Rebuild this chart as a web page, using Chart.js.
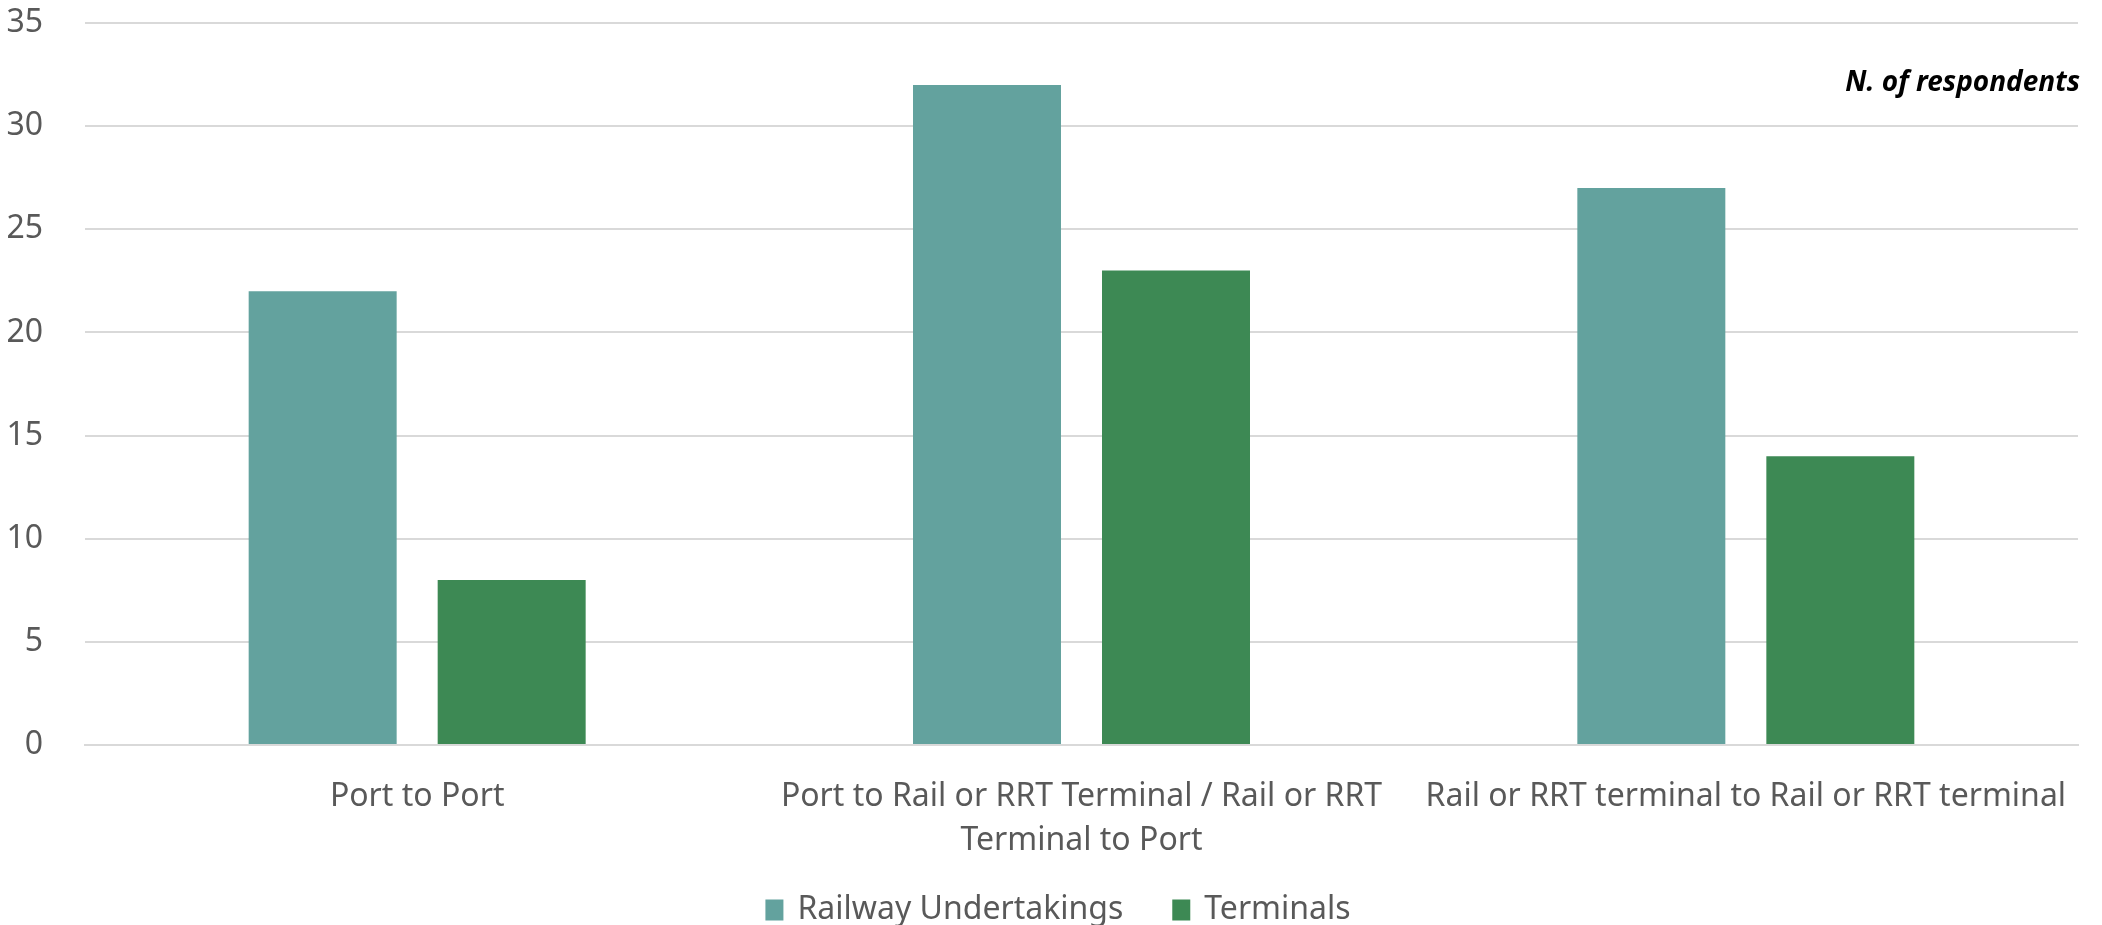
<!DOCTYPE html>
<html>
<head>
<meta charset="utf-8">
<script src="https://cdn.jsdelivr.net/npm/chart.js@4/dist/chart.umd.min.js"></script>
<style>
  html, body { margin: 0; padding: 0; background: #fff; overflow: hidden; }
  #grafico { position: absolute; left: 0; top: 0; }
</style>
</head>
<body>
<canvas id="grafico" width="2102" height="925"></canvas>
<script>
const categorias = [
  'Port to Port',
  ['Port to Rail or RRT Terminal / Rail or RRT', 'Terminal to Port'],
  'Rail or RRT terminal to Rail or RRT terminal'
];
const railway = [22, 32, 27];
const terminals = [8, 23, 14];
const ticksY = [0, 5, 10, 15, 20, 25, 30, 35];

const fuente = "'Noto Sans', sans-serif";

// nota arriba a la derecha + leyenda dibujada a mano (para controlar el espaciado)
const extras = {
  id: 'extras',
  afterDraw(chart) {
    const ctx = chart.ctx;
    const area = chart.chartArea;
    ctx.save();
    ctx.font = 'italic bold 28px ' + fuente;
    ctx.fillStyle = '#000';
    ctx.textAlign = 'right';
    ctx.textBaseline = 'middle';
    ctx.fillText('N. of respondents', area.right + 2, area.top + 60);

    ctx.font = '32px ' + fuente;
    ctx.textAlign = 'left';
    const caja = 18, altoCaja = 21, gapTexto = 14, gapItem = 49;
    const items = chart.data.datasets.map(d => ({ texto: d.label, color: d.backgroundColor, w: ctx.measureText(d.label).width }));
    const total = items.reduce((s, it) => s + caja + gapTexto + it.w, 0) + gapItem * (items.length - 1);
    let x = chart.width / 2 + 7 - total / 2;
    const y = chart.height - 15;
    items.forEach(it => {
      ctx.fillStyle = it.color;
      ctx.fillRect(x, y - altoCaja / 2, caja, altoCaja);
      x += caja + gapTexto;
      ctx.fillStyle = '#595959';
      ctx.fillText(it.texto, x, y);
      x += it.w + gapItem;
    });
    ctx.restore();
  }
};

new Chart(document.getElementById('grafico'), {
  type: 'bar',
  data: {
    labels: categorias,
    datasets: [
      { label: 'Railway Undertakings', data: railway, backgroundColor: '#63A29E' },
      { label: 'Terminals', data: terminals, backgroundColor: '#3D8954' }
    ]
  },
  options: {
    responsive: false,
    animation: false,
    categoryPercentage: 0.569,
    barPercentage: 0.783,
    layout: { padding: { top: 23, right: 24, bottom: 40, left: 0 } },
    plugins: {
      legend: { display: false },
      tooltip: { enabled: false }
    },
    scales: {
      x: {
        grid: { display: false },
        border: { color: '#D9D9D9', width: 2 },
        ticks: {
          color: '#595959',
          font: { family: fuente, size: 32, lineHeight: 1.375 },
          padding: 22,
          maxRotation: 0,
          autoSkip: false
        }
      },
      y: {
        min: 0,
        max: 35,
        afterBuildTicks: s => { s.ticks = ticksY.map(v => ({ value: v })); },
        afterFit: s => {
          s.width = 85;
          s.paddingTop = 0;
          s.paddingBottom = 0;
        },
        grid: { color: '#D9D9D9', lineWidth: 2, drawTicks: false },
        border: { display: false },
        ticks: {
          color: '#595959',
          font: { family: fuente, size: 32 },
          padding: 42
        }
      }
    }
  },
  plugins: [extras]
});
</script>
</body>
</html>
